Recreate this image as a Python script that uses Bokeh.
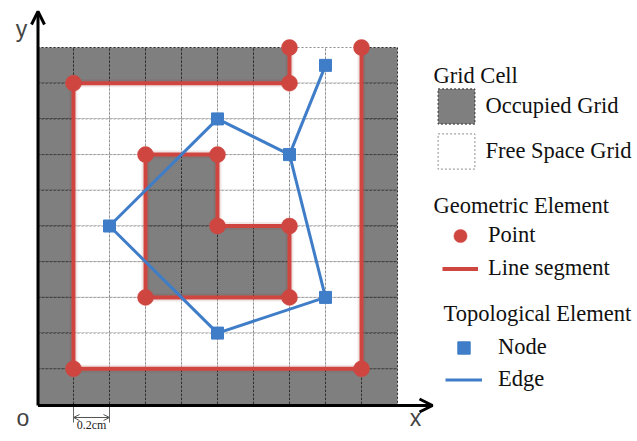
from bokeh.plotting import figure
from bokeh.models import (Range1d, Label, Arrow, OpenHead, Legend, LegendItem)
from bokeh.embed import file_html
from bokeh.resources import INLINE

# ---- data ----
# occupancy map, top row (y=9..10) first; '#' = occupied, '.' = free
grid_rows = [
    "#######..#",
    "#........#",
    "#........#",
    "#..##....#",
    "#..##....#",
    "#..####..#",
    "#..####..#",
    "#........#",
    "#........#",
    "##########",
]
# geometric points
point_x = [1, 1, 7, 7, 9, 9, 3, 3, 5, 5, 7, 7]
point_y = [1, 9, 9, 10, 10, 1, 3, 7, 7, 5, 5, 3]
# line segments (polylines)
seg_xs = [[7, 7, 1, 1, 9, 9], [3, 3, 5, 5, 7, 7, 3]]
seg_ys = [[10, 9, 9, 1, 1, 10], [3, 7, 7, 5, 5, 3, 3]]
# topological nodes
node_x = [2, 5, 7, 8, 8, 5]
node_y = [5, 8, 7, 9.5, 3, 2]
# edges as node index pairs
edges = [(0, 1), (1, 2), (2, 3), (2, 4), (4, 5), (5, 0)]

n_rows = len(grid_rows)
occ_x, occ_y, free_x, free_y = [], [], [], []
for i, row in enumerate(grid_rows):
    yy = n_rows - 1 - i + 0.5
    for j, ch in enumerate(row):
        if ch == "#":
            occ_x.append(j + 0.5); occ_y.append(yy)
        else:
            free_x.append(j + 0.5); free_y.append(yy)

edge_xs = [[node_x[a], node_x[b]] for a, b in edges]
edge_ys = [[node_y[a], node_y[b]] for a, b in edges]

W, H = 637, 441
CW, CH = 36.0, 35.7
X0 = 37.0          # pixel column of x = 0
YT = 404.0         # pixel row (from top) of y = 0


def dx(px):
    return (px - X0) / CW


def dy(py):
    return (YT - py) / CH


p = figure(width=W, height=H, output_backend="svg", toolbar_location=None,
           x_range=Range1d(dx(0), dx(W)), y_range=Range1d(dy(H), dy(0)),
           min_border=0, outline_line_color=None)
p.xaxis.visible = False
p.yaxis.visible = False
p.grid.visible = False

RED = "#CF4540"
BLUE = "#3F7DC8"
GRAY = "#7F7F7F"

free_r = p.rect(free_x, free_y, width=1, height=1, fill_color="white",
                line_color="#8a8a8a", line_dash="2 2", line_width=1)
occ_r = p.rect(occ_x, occ_y, width=1, height=1, fill_color=GRAY,
               line_color="#2a2a2a", line_dash="2 2", line_width=1)

# soft shadow under red elements
p.multi_line(seg_xs, seg_ys, line_color="#8a3a36", line_width=8, line_alpha=0.12)
seg_r = p.multi_line(seg_xs, seg_ys, line_color=RED, line_width=4)
pt_r = p.scatter(point_x, point_y, marker="circle", size=16, fill_color=RED,
                 line_color=RED, line_alpha=0.5)

edge_r = p.multi_line(edge_xs, edge_ys, line_color=BLUE, line_width=3)
node_r = p.scatter(node_x, node_y, marker="square", size=12, fill_color=BLUE,
                   line_color=BLUE)

# axes with arrows
ax0x, ax0y = dx(37.5), dy(405)
p.add_layout(Arrow(end=OpenHead(size=13, line_width=3, line_color="black"),
                   x_start=ax0x, y_start=ax0y, x_end=ax0x, y_end=dy(11),
                   line_width=3, line_color="black"))
p.add_layout(Arrow(end=OpenHead(size=13, line_width=3, line_color="black"),
                   x_start=ax0x, y_start=ax0y, x_end=dx(432), y_end=ax0y,
                   line_width=3, line_color="black"))

# scale bar
p.segment([1, 2], [ax0y, ax0y], [1, 2], [dy(422), dy(422)],
          line_color="#666666", line_width=1)
p.add_layout(Arrow(start=OpenHead(size=6, line_width=1, line_color="#555555"),
                   end=OpenHead(size=6, line_width=1, line_color="#555555"),
                   x_start=1, y_start=dy(417), x_end=2, y_end=dy(417),
                   line_width=1, line_color="#555555"))
p.add_layout(Label(x=1.5, y=dy(431), text="0.2cm", text_align="center",
                   text_baseline="bottom", text_font="Liberation Serif",
                   text_font_size="12px", text_color="#222222"))

SANS = "Liberation Sans"
for txt, px, py in [("y", 21, 28.5), ("o", 22.5, 417), ("x", 415, 417)]:
    p.add_layout(Label(x=dx(px), y=dy(py), text=txt, text_align="center",
                       text_baseline="alphabetic", text_font=SANS,
                       text_font_size="23px"))

SERIF = "Liberation Serif"
FS = "22.5px"
for txt, px, py in [("Grid Cell", 433, 75), ("Geometric Element", 433, 205),
                    ("Topological Element", 443, 313)]:
    p.add_layout(Label(x=dx(px), y=dy(py), text=txt, text_font=SERIF,
                       text_font_size=FS, text_baseline="alphabetic",
                       text_color="#111111"))


def mk_legend(items, loc, gw, gh, spacing, standoff):
    lg = Legend(items=items, location=loc, glyph_width=gw, glyph_height=gh,
                spacing=spacing, label_standoff=standoff, padding=0, margin=0,
                border_line_color=None, background_fill_alpha=0,
                label_text_font=SERIF, label_text_font_size=FS,
                label_text_color="#111111", label_height=10, label_width=10)
    p.add_layout(lg)
    return lg


# legend locations: (left, bottom) in screen pixels from the frame's bottom-left
mk_legend([LegendItem(label="Occupied Grid", renderers=[occ_r]),
           LegendItem(label="Free Space Grid", renderers=[free_r])],
          (433.4, H - 172.6), 46, 44, 1, 6)
mk_legend([LegendItem(label="Point", renderers=[pt_r]),
           LegendItem(label="Line segment", renderers=[seg_r])],
          (442, H - 284.5), 36, 33, 0, 10)
mk_legend([LegendItem(label="Node", renderers=[node_r]),
           LegendItem(label="Edge", renderers=[edge_r])],
          (445, H - 394.5), 37, 31, 1, 16)

open("out.html", "w").write(file_html(p, INLINE))
